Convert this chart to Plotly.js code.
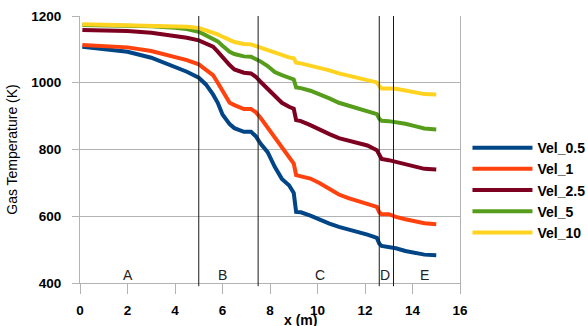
<!DOCTYPE html>
<html>
<head>
<meta charset="utf-8">
<script src="https://cdn.plot.ly/plotly-3.0.1.min.js"></script>
<style>html,body{margin:0;padding:0;background:#fff;}#chart{width:588px;height:326px;}</style>
</head>
<body>
<div id="chart"></div>
<script>
const xPos = [0.1, 1, 2, 3, 4, 4.5, 5, 5.3, 5.6, 5.8, 6.0, 6.15, 6.3, 6.5, 6.7, 6.9, 7.2, 7.4, 7.6, 7.9, 8.2, 8.5, 8.8, 9.0, 9.1, 9.3, 9.7, 10.1, 10.5, 10.9, 11.3, 11.7, 12.1, 12.5, 12.6, 12.7, 13.0, 13.3, 13.7, 14.1, 14.5, 15.0];

const vel05 = [1108, 1101, 1093, 1075, 1048, 1033, 1015, 995, 965, 940, 905, 890, 876, 864, 858, 853, 853, 840, 818, 792, 748, 712, 693, 670, 613, 612, 602, 589, 578, 568, 561, 553, 545, 535, 518, 511, 509, 504, 496, 490, 485, 483];
const vel1  = [1113, 1111, 1106, 1095, 1078, 1068, 1055, 1040, 1023, 1000, 976, 958, 940, 933, 926, 921, 921, 912, 895, 865, 835, 805, 775, 758, 723, 720, 713, 699, 682, 665, 654, 645, 638, 628, 612, 606, 606, 598, 591, 585, 579, 576];
const vel25 = [1158, 1157, 1155, 1150, 1141, 1135, 1127, 1118, 1108, 1093, 1076, 1065, 1053, 1040, 1034, 1030, 1028, 1018, 1003, 982, 962, 940, 928, 922, 888, 885, 873, 858, 846, 834, 827, 820, 812, 798, 782, 772, 768, 763, 757, 749, 742, 740];
const vel5  = [1173, 1172, 1171, 1169, 1165, 1161, 1153, 1143, 1133, 1124, 1111, 1102, 1093, 1086, 1082, 1079, 1078, 1072, 1064, 1050, 1032, 1023, 1015, 1010, 986, 984, 976, 966, 953, 940, 932, 924, 915, 906, 892, 886, 885, 882, 877, 870, 863, 860];
const vel10 = [1175, 1174, 1173, 1172, 1170, 1168, 1164, 1158, 1151, 1145, 1138, 1133, 1128, 1122, 1119, 1116, 1115, 1110, 1105, 1097, 1089, 1081, 1076, 1073, 1060, 1058, 1052, 1046, 1037, 1028, 1022, 1016, 1009, 1001, 990, 983, 983, 982, 977, 971, 966, 965];

const seriesNames = ["Vel_0.5", "Vel_1", "Vel_2.5", "Vel_5", "Vel_10"];
const seriesValues = [vel05, vel1, vel25, vel5, vel10];
const seriesColors = ["#004586", "#ff420e", "#7e0021", "#579d1c", "#ffd320"];

const boundaries = [5, 7.5, 12.6, 13.2];
const zoneLabels = ["A", "B", "C", "D", "E"];
const zoneLabelX = [2, 6, 10.1, 12.85, 14.5];
const zoneLabelY = 423;

const xTicks = [0, 2, 4, 6, 8, 10, 12, 14, 16];
const yTicks = [400, 600, 800, 1000, 1200];

const FONT = "Liberation Sans, Arial, sans-serif";

const traces = seriesNames.map((n, i) => ({
  x: xPos, y: seriesValues[i], name: n, type: "scatter", mode: "lines",
  line: {color: seriesColors[i], width: 4}
}));

const shapes = boundaries.map(b => ({
  type: "line", xref: "x", yref: "paper", x0: b, x1: b, y0: -0.012, y1: 1,
  line: {color: "#1a1a1a", width: 1}
}));

const annotations = zoneLabels.map((t, i) => ({
  text: t, x: zoneLabelX[i], y: zoneLabelY, xref: "x", yref: "y",
  showarrow: false, font: {family: FONT, size: 14, color: "#222"}
}));
annotations.push({
  text: "<b>x (m)</b>", xref: "paper", yref: "paper", x: 0.579, y: -0.14,
  xanchor: "center", yanchor: "middle", showarrow: false,
  font: {family: FONT, size: 14, color: "#000"}
});

const layout = {
  width: 588, height: 326,
  margin: {l: 80, r: 128, t: 16, b: 43},
  paper_bgcolor: "#fff", plot_bgcolor: "#fff",
  showlegend: true,
  legend: {xref: "container", yref: "container", x: 0.795, xanchor: "left", y: 0.417, yanchor: "middle",
    font: {family: FONT, size: 14, color: "#000", weight: "bold"},
    itemwidth: 60, tracegroupgap: 0, bgcolor: "rgba(0,0,0,0)"},
  xaxis: {range: [0, 16], tickvals: xTicks, ticktext: xTicks.map(String),
    showgrid: false, zeroline: false, showline: true, linecolor: "#b3b3b3", linewidth: 1,
    ticks: "outside", ticklen: 10, tickcolor: "#b3b3b3", ticklabelstandoff: 5,
    tickfont: {family: FONT, size: 13.5, color: "#000", weight: "bold"}},
  yaxis: {range: [400, 1200], tickvals: yTicks, ticktext: yTicks.map(String),
    showgrid: true, gridcolor: "#b3b3b3", zeroline: false,
    showline: true, mirror: true, linecolor: "#b3b3b3", linewidth: 1,
    ticks: "outside", ticklen: 7, tickcolor: "#b3b3b3", ticklabelstandoff: 8,
    tickfont: {family: FONT, size: 13.5, color: "#000", weight: "bold"},
    title: {text: "Gas Temperature (K)", standoff: 10, font: {family: FONT, size: 14, color: "#000"}}},
  shapes: shapes,
  annotations: annotations
};

Plotly.newPlot("chart", traces, layout, {displayModeBar: false, staticPlot: true});
</script>
</body>
</html>
